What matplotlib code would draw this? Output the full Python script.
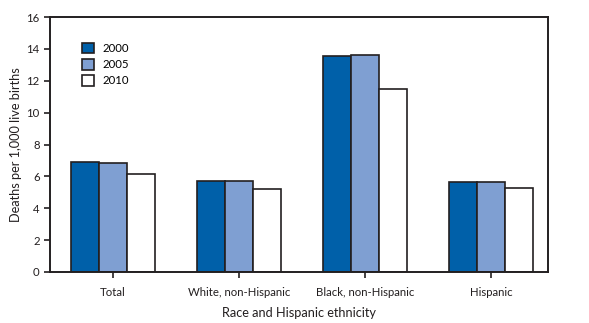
import numpy as np
import matplotlib
matplotlib.use("Agg")
import matplotlib.pyplot as plt

groups = ["Total", "White, non-Hispanic", "Black, non-Hispanic", "Hispanic"]
years = ["2000", "2005", "2010"]
rate_2000 = [6.89, 5.70, 13.59, 5.62]
rate_2005 = [6.86, 5.73, 13.63, 5.62]
rate_2010 = [6.15, 5.18, 11.46, 5.25]

colors = ["#0060A9", "#7F9FD2", "#FFFFFF"]
edge = "#231F20"

plt.rcParams["font.family"] = ["Lato", "DejaVu Sans"]

fig = plt.figure(figsize=(5.89, 3.23), dpi=100)
ax = fig.add_axes([0.085, 0.158, 0.845, 0.789])

x = np.arange(len(groups))
w = 0.222
for i, (vals, yr) in enumerate(zip([rate_2000, rate_2005, rate_2010], years)):
    ax.bar(x + (i - 1) * w, vals, w, color=colors[i], edgecolor=edge,
           linewidth=1.2, label=yr, zorder=2)

ax.set_xlim(-0.5, 3.45)
ax.set_ylim(0, 16)
ax.set_yticks(range(0, 17, 2))
ax.set_xticks(x)
ax.set_xticklabels(groups)
ax.tick_params(axis="both", direction="out", length=4, width=1.2,
               color=edge, labelsize=8.2, labelcolor=edge)
ax.tick_params(axis="x", pad=7)
for s in ax.spines.values():
    s.set_linewidth(1.4)
    s.set_color(edge)

ax.set_ylabel("Deaths per 1,000 live births", fontsize=9.2, color=edge, labelpad=3)
ax.set_xlabel("Race and Hispanic ethnicity", fontsize=9.2, color=edge, labelpad=6)

leg = ax.legend(loc="upper left", bbox_to_anchor=(0.053, 0.92), frameon=False,
                fontsize=8.2, handlelength=1.0, handleheight=1.0,
                handletextpad=0.8, labelspacing=0.45, borderpad=0)

fig.savefig("out.png", dpi=100)
